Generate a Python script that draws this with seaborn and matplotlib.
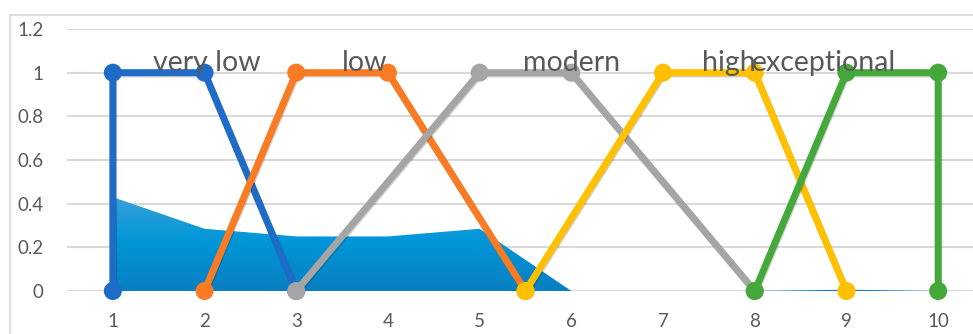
import numpy as np
import pandas as pd
import matplotlib
matplotlib.use("Agg")
import matplotlib.pyplot as plt
import matplotlib.patheffects as pe
from matplotlib.patches import Rectangle
from matplotlib.colors import LinearSegmentedColormap
import seaborn as sns

# Membership functions (trapezoids) for each grade
very_low_x = [1, 1, 2, 3]
very_low_y = [0, 1, 1, 0]
low_x = [2, 3, 4, 5.5]
low_y = [0, 1, 1, 0]
modern_x = [3, 5, 6, 8]
modern_y = [0, 1, 1, 0]
high_x = [5.5, 7, 8, 9]
high_y = [0, 1, 1, 0]
exceptional_x = [8, 9, 10, 10]
exceptional_y = [0, 1, 1, 0]

# Observed distribution shown as the shaded area
dist_x = [1, 2, 3, 4, 5, 6, 7, 8, 9, 10]
dist_y = [0.43, 0.285, 0.25, 0.25, 0.285, 0.0, 0.0, 0.0, 0.006, 0.0]

series_names = ["very low", "low", "modern", "high", "exceptional"]
series_colors = ["#1E6CC8", "#F97B24", "#A5A5A5", "#FFC000", "#45A83B"]
label_x = [2.03, 3.75, 6.0, 7.72, 8.76]
label_y = 1.045

x_ticks = [1, 2, 3, 4, 5, 6, 7, 8, 9, 10]
y_ticks = [0, 0.2, 0.4, 0.6, 0.8, 1.0, 1.2]
y_tick_labels = ["0", "0.2", "0.4", "0.6", "0.8", "1", "1.2"]

sns.set_theme(style="white")
plt.rcParams["font.family"] = ["Lato", "DejaVu Sans"]

W, H = 973, 334
fig = plt.figure(figsize=(W / 100, H / 100), dpi=100)
ax = fig.add_axes([67 / W, (H - 291) / H, (984 - 67) / W, (291 - 29) / H])
ax.set_xlim(0.5, 10.5)
ax.set_ylim(0, 1.2)

# outer chart frame
fig.patches.append(Rectangle((10 / W, -0.1), 1.2, (H - 15) / H + 0.1,
                             transform=fig.transFigure, fill=False,
                             edgecolor="#D9D9D9", linewidth=1.2, zorder=0))

# gridlines
for yv in y_ticks:
    ax.axhline(yv, color="#D9D9D9", linewidth=1.5, zorder=0.5)

# shaded distribution with vertical gradient
poly = ax.fill_between(dist_x, 0, dist_y, color="none", linewidth=0, zorder=1)
cmap = LinearSegmentedColormap.from_list("area", ["#0A7FC2", "#0096D8", "#3EA2DA"])
grad = np.linspace(0, 1, 256).reshape(-1, 1)
img = ax.imshow(grad, cmap=cmap, origin="lower", aspect="auto",
                extent=[1, 10, 0, 0.45], zorder=1)
img.set_clip_path(poly.get_paths()[0], transform=ax.transData)
ax.set_xlim(0.5, 10.5)
ax.set_ylim(0, 1.2)

shadow = [pe.SimpleLineShadow(offset=(0.6, -1.0), shadow_color="black", alpha=0.18),
          pe.Normal()]

series = [(very_low_x, very_low_y), (low_x, low_y), (modern_x, modern_y),
          (high_x, high_y), (exceptional_x, exceptional_y)]
for (xs, ys), name, col in zip(series, series_names, series_colors):
    df = pd.DataFrame({"x": xs, "y": ys, "order": range(len(xs))})
    sns.lineplot(data=df, x="x", y="y", sort=False, estimator=None, ax=ax,
                 color=col, linewidth=5.0, marker="o", markersize=13,
                 markeredgecolor=col, markeredgewidth=0, zorder=3,
                 path_effects=shadow, clip_on=False, legend=False)

for name, lx in zip(series_names, label_x):
    ax.text(lx, label_y, name, ha="center", va="center", fontsize=20.5,
            color="#595959", zorder=5)

ax.set_xticks(x_ticks)
ax.set_xticklabels([str(v) for v in x_ticks])
ax.set_yticks(y_ticks)
ax.set_yticklabels(y_tick_labels)
ax.tick_params(axis="both", length=0, labelsize=13.5, labelcolor="#595959")
ax.tick_params(axis="x", pad=16)
ax.tick_params(axis="y", pad=17)
ax.set_xlabel("")
ax.set_ylabel("")
for s in ax.spines.values():
    s.set_visible(False)
ax.patch.set_alpha(0)

fig.savefig("out.png", dpi=100)
